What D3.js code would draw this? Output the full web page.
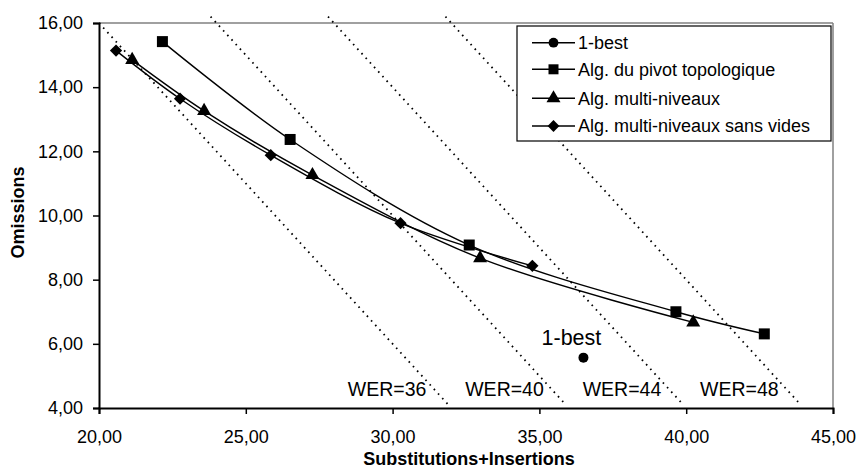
<!DOCTYPE html>
<html>
<head>
<meta charset="utf-8">
<script src="https://cdn.jsdelivr.net/npm/d3@7"></script>
<style>
  body { margin: 0; background: #fff; }
  text { font-family: Arial, "Liberation Sans", sans-serif; fill: #000; }
</style>
</head>
<body>
<div id="chart"></div>
<script>
// data
var pivotX = [22.16, 26.51, 32.61, 39.65, 42.66];
var pivotY = [15.42, 12.37, 9.08, 7.00, 6.31];
var multiX = [21.13, 23.58, 27.27, 32.98, 40.24];
var multiY = [14.85, 13.26, 11.26, 8.67, 6.67];
var sansVidesX = [20.58, 22.76, 25.85, 30.27, 34.76];
var sansVidesY = [15.14, 13.64, 11.88, 9.76, 8.43];
var oneBestX = [36.5];
var oneBestY = [5.57];
var werLevels = [36, 40, 44, 48];
var xTicks = [20, 25, 30, 35, 40, 45];
var yTicks = [4, 6, 8, 10, 12, 14, 16];
var seriesNames = ["1-best", "Alg. du pivot topologique", "Alg. multi-niveaux", "Alg. multi-niveaux sans vides"];

// set the dimensions and margins of the graph
var margin = {top: 23, right: 24, bottom: 60, left: 99},
    width = 857 - margin.left - margin.right,
    height = 468 - margin.top - margin.bottom;

var svg = d3.select("#chart")
  .append("svg")
    .attr("width", 857)
    .attr("height", 468)
  .append("g")
    .attr("transform", "translate(" + margin.left + "," + margin.top + ")");

var fr = d3.formatLocale({decimal: ",", thousands: " ", grouping: [3], currency: ["", ""]});
var fmt = fr.format(".2f");

var x = d3.scaleLinear().domain([20, 45]).range([0, width]);
var y = d3.scaleLinear().domain([4, 16]).range([height, 0]);

// excel-like diamond: a square turned 45 degrees
var diamond = {
  draw: function(ctx, size) {
    var r = Math.sqrt(size / 2);
    ctx.moveTo(0, -r); ctx.lineTo(r, 0); ctx.lineTo(0, r); ctx.lineTo(-r, 0); ctx.closePath();
  }
};

// plot area border (grey top/right)
svg.append("line").attr("x1", 0).attr("x2", width).attr("y1", 0).attr("y2", 0)
  .attr("stroke", "#808080").attr("stroke-width", 1.5);
svg.append("line").attr("x1", width).attr("x2", width).attr("y1", 0).attr("y2", height)
  .attr("stroke", "#808080").attr("stroke-width", 1.5);

// WER iso-lines (S+I+O = WER)
svg.selectAll(".wer")
  .data(werLevels)
  .enter()
  .append("line")
    .attr("x1", function(d) { var o = Math.min(16.2, d - 20); return x(d - o); })
    .attr("y1", function(d) { var o = Math.min(16.2, d - 20); return y(o); })
    .attr("x2", function(d) { return x(d - 4.1); })
    .attr("y2", y(4.1))
    .attr("stroke", "#000")
    .attr("stroke-width", 1.8)
    .attr("stroke-dasharray", "1.6,4.6");

svg.selectAll(".werlabel")
  .data(werLevels)
  .enter()
  .append("text")
    .attr("x", function(d) { return x(d - 4.85); })
    .attr("y", y(4.38))
    .attr("text-anchor", "end")
    .style("font-size", "19.5px")
    .text(function(d) { return "WER=" + d; });

// axes
var xAxis = svg.append("g")
  .attr("transform", "translate(0," + height + ")")
  .call(d3.axisBottom(x).tickValues(xTicks).tickFormat(fmt).tickSize(6).tickPadding(16));
var yAxis = svg.append("g")
  .call(d3.axisLeft(y).tickValues(yTicks).tickFormat(fmt).tickSize(6).tickPadding(10));

[xAxis, yAxis].forEach(function(a) {
  a.select(".domain").attr("stroke", "#000").attr("stroke-width", 2);
  a.selectAll(".tick line").attr("stroke", "#000").attr("stroke-width", 1.5);
  a.selectAll("text").style("font-size", "18px").attr("fill", "#000");
});

// axis titles
svg.append("text")
  .attr("x", width / 2 + 3)
  .attr("y", height + 57)
  .attr("text-anchor", "middle")
  .style("font-size", "18px")
  .style("font-weight", "bold")
  .text("Substitutions+Insertions");

svg.append("text")
  .attr("transform", "translate(" + (-75) + "," + (height / 2 - 3) + ") rotate(-90)")
  .attr("text-anchor", "middle")
  .style("font-size", "18px")
  .style("font-weight", "bold")
  .text("Omissions");

// series
function zip(xs, ys) { return xs.map(function(v, i) { return [v, ys[i]]; }); }
var series = [
  {name: seriesNames[1], pts: zip(pivotX, pivotY), sym: d3.symbolSquare, size: 121},
  {name: seriesNames[2], pts: zip(multiX, multiY), sym: d3.symbolTriangle, size: 85},
  {name: seriesNames[3], pts: zip(sansVidesX, sansVidesY), sym: diamond, size: 75}
];

var line = d3.line()
  .x(function(d) { return x(d[0]); })
  .y(function(d) { return y(d[1]); })
  .curve(d3.curveCatmullRom.alpha(0.5));

series.forEach(function(s) {
  svg.append("path")
    .datum(s.pts)
    .attr("fill", "none")
    .attr("stroke", "#000")
    .attr("stroke-width", 1.4)
    .attr("d", line);
});

series.forEach(function(s) {
  svg.selectAll(null)
    .data(s.pts)
    .enter()
    .append("path")
      .attr("transform", function(d) { return "translate(" + x(d[0]) + "," + y(d[1]) + ")"; })
      .attr("d", d3.symbol().type(s.sym).size(s.size))
      .attr("fill", "#000");
});

// 1-best point
var oneBest = zip(oneBestX, oneBestY);
svg.selectAll(null)
  .data(oneBest)
  .enter()
  .append("circle")
    .attr("cx", function(d) { return x(d[0]); })
    .attr("cy", function(d) { return y(d[1]); })
    .attr("r", 5)
    .attr("fill", "#000");

svg.selectAll(null)
  .data(oneBest)
  .enter()
  .append("text")
    .attr("x", function(d) { return x(d[0]) - 12; })
    .attr("y", function(d) { return y(d[1]) - 13; })
    .attr("text-anchor", "middle")
    .style("font-size", "21.5px")
    .text("1-best");

// legend
var legend = svg.append("g").attr("transform", "translate(" + (517 - margin.left) + "," + (26 - margin.top) + ")");
legend.append("rect")
  .attr("width", 314).attr("height", 115)
  .attr("fill", "#fff").attr("stroke", "#000").attr("stroke-width", 1.2);

var legendSyms = [
  {sym: d3.symbolCircle, size: 75},
  {sym: d3.symbolSquare, size: 100},
  {sym: d3.symbolTriangle, size: 85},
  {sym: diamond, size: 70}
];
var rowY = [16.7, 43.3, 72.3, 100];

seriesNames.forEach(function(name, i) {
  var g = legend.append("g").attr("transform", "translate(0," + rowY[i] + ")");
  g.append("line").attr("x1", 15).attr("x2", 58).attr("y1", 0).attr("y2", 0)
    .attr("stroke", "#000").attr("stroke-width", 1.4);
  g.append("path")
    .attr("transform", "translate(36.5,0)")
    .attr("d", d3.symbol().type(legendSyms[i].sym).size(legendSyms[i].size))
    .attr("fill", "#000");
  g.append("text")
    .attr("x", 61)
    .attr("dy", "0.35em")
    .style("font-size", "18px")
    .text(name);
});
</script>
</body>
</html>
